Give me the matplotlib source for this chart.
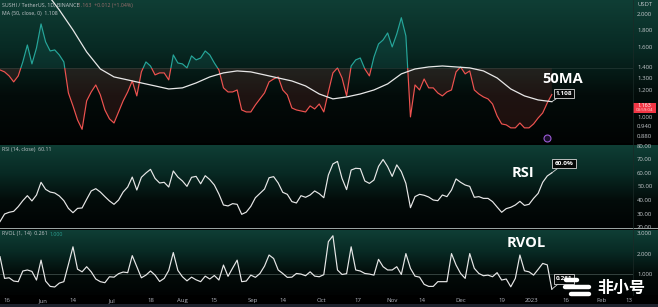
import numpy as np
import pandas as pd
import matplotlib
matplotlib.use("Agg")
import matplotlib.pyplot as plt
import matplotlib.dates as mdates
from matplotlib.colors import LinearSegmentedColormap
from matplotlib.patches import Rectangle
from matplotlib.lines import Line2D
from matplotlib.ticker import FixedLocator, NullLocator

# valores (1 ponto a cada 2 dias, a partir de 13/05/2022)
close = [1.372, 1.354, 1.318, 1.266, 1.318, 1.448, 1.623, 1.429, 1.591, 1.870,
         1.657, 1.559, 1.570, 1.518, 1.448, 1.175, 1.077, 0.980, 0.920, 1.114,
         1.183, 1.240, 1.160, 1.048, 0.987, 0.960, 1.034, 1.114, 1.183, 1.274,
         1.152, 1.354, 1.448, 1.409, 1.327, 1.345, 1.345, 1.283, 1.518, 1.438,
         1.429, 1.391, 1.508, 1.468, 1.487, 1.559, 1.518, 1.438, 1.372, 1.216,
         1.183, 1.183, 1.199, 1.048, 1.034, 1.034, 1.084, 1.129, 1.175, 1.266,
         1.291, 1.309, 1.199, 1.160, 1.062, 1.048, 1.041, 1.034, 1.077, 1.055,
         1.091, 1.034, 1.183, 1.345, 1.391, 1.300, 1.152, 1.409, 1.468, 1.487,
         1.381, 1.318, 1.497, 1.634, 1.679, 1.760, 1.602, 1.748, 1.950, 1.725,
         1.000, 1.240, 1.199, 1.291, 1.216, 1.216, 1.175, 1.152, 1.183, 1.199,
         1.354, 1.400, 1.336, 1.363, 1.199, 1.167, 1.144, 1.129, 1.091, 1.007,
         0.954, 0.948, 0.929, 0.929, 0.960, 0.929, 0.929, 0.954, 0.993, 1.027,
         1.099, 1.163]

# MA 50 (1 ponto a cada 6 dias, a partir de 02/06/2022)
ma50 = [2.320, 2.055, 1.796, 1.549, 1.381, 1.309, 1.283, 1.257, 1.232, 1.207,
        1.216, 1.257, 1.309, 1.345, 1.363, 1.354, 1.327, 1.300, 1.274, 1.232,
        1.167, 1.129, 1.144, 1.167, 1.199, 1.249, 1.336, 1.381, 1.400, 1.409,
        1.400, 1.391, 1.363, 1.300, 1.207, 1.152, 1.121, 1.108]

rsi = [24.0, 29.6, 30.9, 31.6, 35.1, 39.5, 43.2, 39.3, 43.7, 53.1,
       47.9, 45.9, 45.2, 43.0, 39.5, 33.8, 30.6, 33.8, 34.1, 40.5,
       46.7, 48.4, 45.9, 42.5, 39.3, 36.8, 40.0, 45.9, 49.6, 57.0,
       47.4, 56.8, 60.0, 62.7, 56.0, 52.6, 53.1, 49.6, 61.5, 57.0,
       54.1, 50.1, 56.8, 57.5, 52.0, 58.0, 55.1, 51.1, 44.4, 36.3,
       35.6, 37.3, 36.8, 29.4, 31.0, 35.3, 41.7, 44.9, 48.1, 56.5,
       57.3, 52.6, 45.7, 44.2, 38.8, 37.8, 43.2, 42.0, 43.7, 46.7,
       44.7, 41.7, 58.5, 66.7, 68.6, 56.0, 47.7, 62.2, 63.5, 63.2,
       54.1, 52.3, 54.8, 64.9, 70.0, 64.7, 57.5, 66.0, 61.0, 52.3,
       34.3, 42.5, 44.2, 43.5, 42.2, 40.0, 39.5, 43.7, 42.5, 47.4,
       55.6, 53.1, 51.1, 50.1, 42.0, 42.5, 41.2, 41.2, 38.8, 34.8,
       30.9, 33.6, 34.6, 36.3, 39.0, 36.0, 36.8, 41.2, 44.9, 53.1,
       57.8, 60.11]

rvol = [1.85, 0.79, 0.82, 0.66, 0.63, 1.15, 1.20, 1.13, 0.71, 1.68,
        0.66, 0.40, 0.37, 0.56, 0.63, 1.47, 2.33, 1.24, 1.11, 1.36,
        1.11, 0.76, 0.63, 0.58, 0.87, 0.85, 1.02, 1.10, 1.07, 1.90,
        1.36, 0.82, 0.95, 1.15, 0.95, 0.64, 0.79, 1.18, 2.05, 1.18,
        0.87, 0.67, 0.85, 0.72, 0.63, 0.90, 0.76, 0.93, 0.71, 1.44,
        0.89, 1.29, 1.68, 0.63, 0.66, 0.95, 0.84, 1.03, 1.39, 1.93,
        1.76, 1.20, 1.03, 0.84, 0.85, 1.03, 1.00, 0.92, 1.11, 0.90,
        0.87, 0.97, 2.58, 2.87, 1.20, 0.98, 1.02, 2.33, 1.20, 1.15,
        1.03, 1.00, 0.95, 1.72, 1.36, 1.20, 1.20, 1.36, 0.98, 2.00,
        1.28, 0.90, 0.85, 0.50, 0.40, 0.40, 0.63, 0.63, 0.63, 2.00,
        1.44, 1.03, 0.79, 2.00, 1.28, 1.03, 0.92, 0.95, 0.87, 1.07,
        0.71, 0.76, 0.38, 0.79, 1.93, 1.16, 1.11, 0.95, 1.23, 1.52,
        1.45, 0.261]

price_ticks = [0.88, 0.94, 1.0, 1.2, 1.3, 1.4, 1.6, 1.8, 2.0]
rsi_ticks = [20, 30, 40, 50, 60, 70, 80]
rvol_ticks = [1, 2, 3]
date_ticks = ["2022-05-16", "2022-06-01", "2022-06-14", "2022-07-01", "2022-07-18",
              "2022-08-01", "2022-08-15", "2022-09-01", "2022-09-14", "2022-10-01",
              "2022-10-17", "2022-11-01", "2022-11-14", "2022-12-01", "2022-12-19",
              "2023-01-01", "2023-01-16", "2023-02-01", "2023-02-13"]
date_labels = ["16", "Jun", "14", "Jul", "18", "Aug", "15", "Sep", "14", "Oct",
               "17", "Nov", "14", "Dec", "19", "2023", "16", "Feb", "13"]

baseline = 1.39
last_price = 1.163

plt.rcParams["font.family"] = ["Open Sans", "DejaVu Sans"]

TEAL = "#26a69a"
RED = "#ef5350"
LINE = "#e8e8e8"
AX = "#c4c8cc"

dates = pd.date_range("2022-05-13", periods=len(close), freq="2D")
ma_dates = pd.date_range("2022-06-02", periods=len(ma50), freq="6D")
x0 = pd.Timestamp("2022-05-13")
x1 = x0 + pd.Timedelta(days=277.6)

W, H = 658, 307
fig = plt.figure(figsize=(W / 100, H / 100), dpi=100, facecolor="#000000")


def fx(x):
    return x / W


def fy(y):
    return 1 - y / H


# fundo em degradê de cada painel
grad = LinearSegmentedColormap.from_list("bg", ["#0f3e35", "#082a24", "#030c0a", "#010303"])
for top, bot in [(0, 143), (145, 228), (230, 295)]:
    bg = fig.add_axes([0, fy(bot), 1, (bot - top) / H])
    bg.imshow(np.linspace(0, 1, 200).reshape(-1, 1), aspect="auto", cmap=grad, extent=[0, 1, 0, 1])
    bg.set_axis_off()

fig.add_artist(Rectangle((0, fy(229.3)), 1, 1.2 / H, transform=fig.transFigure, color="#9aa3a1", lw=0))
fig.add_artist(Rectangle((0, 0), 1, 3 / H, transform=fig.transFigure, color="#1e222d", lw=0))
fig.add_artist(Line2D([fx(633), fx(633)], [fy(295), 1], transform=fig.transFigure, color="#1b2a27", lw=0.5))


def panel(top, bot):
    a = fig.add_axes([0, fy(bot), 633 / W, (bot - top) / H])
    a.set_facecolor("none")
    for s in a.spines.values():
        s.set_visible(False)
    a.set_xlim(x0, x1)
    a.yaxis.tick_right()
    a.tick_params(axis="y", length=0, pad=3, labelsize=4.3, colors=AX)
    a.tick_params(axis="x", length=0, labelbottom=False)
    return a


# ---- preço ----
ax = panel(0, 143)
ax.set_yscale("log")
ax.set_ylim(0.839, 2.197)
ax.yaxis.set_major_locator(FixedLocator(price_ticks))
ax.yaxis.set_minor_locator(NullLocator())
ax.set_yticklabels([f"{v:.3f}" for v in price_ticks])

c = np.array(close)
ax.axhline(baseline, color="#4a5a57", lw=0.4, alpha=0.6)
ax.fill_between(dates, c, baseline, where=c >= baseline, interpolate=True, color=TEAL, alpha=0.13, lw=0)
ax.fill_between(dates, c, baseline, where=c < baseline, interpolate=True, color=RED, alpha=0.12, lw=0)
up, = ax.plot(dates, c, color=TEAL, lw=0.85)
dn, = ax.plot(dates, c, color=RED, lw=0.85)
xa, xb = mdates.date2num(x0), mdates.date2num(x1)
up.set_clip_path(Rectangle((xa, baseline), xb - xa, 50, transform=ax.transData))
dn.set_clip_path(Rectangle((xa, 0.01), xb - xa, baseline - 0.01, transform=ax.transData))
ax.plot(ma_dates, ma50, color=LINE, lw=0.9)

box = dict(boxstyle="square,pad=0.35", fc="#050807", ec="#d8d8d8", lw=0.6)
arr = dict(arrowstyle="-", color="#d8d8d8", lw=0.6, shrinkA=0, shrinkB=0)
ax.annotate(f"{ma50[-1]:.3f}", xy=(ma_dates[-1], ma50[-1]), xytext=(fx(564), fy(93.5)),
            textcoords="figure fraction", ha="center", va="center", fontsize=4.6,
            fontweight="bold", color="white", bbox=box, arrowprops=arr)

# ---- RSI ----
ar = panel(145, 228)
ar.set_ylim(19.26, 80.74)
ar.set_yticks(rsi_ticks)
ar.set_yticklabels([f"{v:.2f}" for v in rsi_ticks])
ar.plot(dates, rsi, color=LINE, lw=0.85)
ar.annotate("60.0%", xy=(dates[-1], rsi[-1]), xytext=(fx(564), fy(163.5)),
            textcoords="figure fraction", ha="center", va="center", fontsize=4.6,
            fontweight="bold", color="white", bbox=box, arrowprops=arr)

# ---- RVOL ----
av = panel(230, 295)
av.set_ylim(-0.02, 3.15)
av.set_yticks(rvol_ticks)
av.set_yticklabels([f"{v:.3f}" for v in rvol_ticks])
av.axhline(1.0, color="#5b6b68", lw=0.5, alpha=0.8)
av.plot(dates, rvol, color=LINE, lw=0.85)
av.annotate(f"{rvol[-1]:.3f}", xy=(dates[-1], rvol[-1]), xytext=(fx(564), fy(279)),
            textcoords="figure fraction", ha="center", va="center", fontsize=4.6,
            fontweight="bold", color="white", bbox=box, arrowprops=arr)
av.set_xticks(pd.to_datetime(date_ticks))
av.set_xticklabels(date_labels)
av.tick_params(axis="x", labelbottom=True, length=0, pad=2.5, labelsize=4.3, colors="#b2b5be")

# ---- textos ----
fig.text(fx(2), fy(5), "SUSHI / TetherUS, 1D, BINANCE", fontsize=3.8, color=AX, va="center")
fig.text(fx(78), fy(5), "1.163  +0.012 (+1.04%)", fontsize=3.8, color="#9a6e6c", va="center")
fig.text(fx(2), fy(13), f"MA (50, close, 0)  {ma50[-1]:.3f}", fontsize=3.8, color=AX, va="center")
fig.text(fx(2), fy(149), f"RSI (14, close)  {rsi[-1]:.2f}", fontsize=3.8, color=AX, va="center")
fig.text(fx(2), fy(234), f"RVOL (1, 14)  {rvol[-1]:.3f}", fontsize=3.8, color=AX, va="center")
fig.text(fx(50), fy(234), "1.000", fontsize=3.8, color="#2a9d8f", va="center")
fig.text(fx(637), fy(5), "USDT", fontsize=4.3, color=AX, va="center")

fig.text(fx(563), fy(79), "50MA", fontsize=10.5, fontweight="bold", color="white", ha="center", va="center")
fig.text(fx(523), fy(173), "RSI", fontsize=10.5, fontweight="bold", color="white", ha="center", va="center")
fig.text(fx(526), fy(243), "RVOL", fontsize=10.5, fontweight="bold", color="white", ha="center", va="center")

# etiqueta do último preço
fig.add_artist(Rectangle((fx(633), fy(113)), 23 / W, 10 / H, transform=fig.transFigure, color="#f23645", lw=0))
fig.text(fx(644), fy(105.8), f"{last_price:.3f}", fontsize=3.9, color="white", ha="center", va="center")
fig.text(fx(644), fy(110.3), "03:59:04", fontsize=3.2, color="#ffd6d6", ha="center", va="center")

# ícone roxo
fig.add_artist(Line2D([fx(547)], [fy(138)], transform=fig.transFigure, marker="o", ms=5,
                      mfc="#1b0f2b", mec="#9b5bd6", mew=0.8))

# marca d'água
for xs, y in [((566, 577), 279.5), ((587, 587), 279.5), ((565, 589), 286.5),
              ((563, 563), 293.5), ((571, 589), 293.5)]:
    fig.add_artist(Line2D([fx(xs[0]), fx(xs[1])], [fy(y), fy(y)], transform=fig.transFigure,
                          color="white", lw=3.2, solid_capstyle="round"))
fig.text(fx(621), fy(288), "非小号", family=["Noto Sans CJK SC", "DejaVu Sans"], fontsize=11.5,
         fontweight="bold", color="white", ha="center", va="center")

fig.savefig("out.png", dpi=100, facecolor=fig.get_facecolor())
